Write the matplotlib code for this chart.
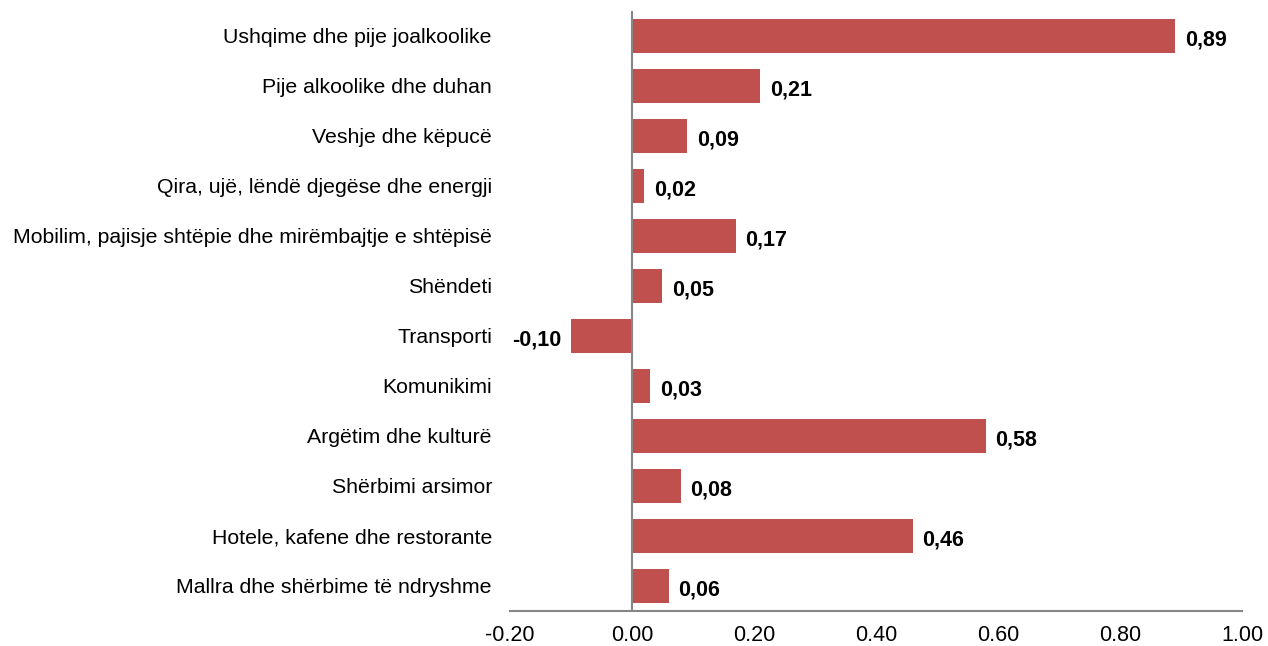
import matplotlib
matplotlib.use("Agg")
import matplotlib.pyplot as plt

plt.rcParams['font.family'] = ['Liberation Sans', 'DejaVu Sans']

categories = ["Ushqime dhe pije joalkoolike", "Pije alkoolike dhe duhan",
              "Veshje dhe këpucë", "Qira, ujë, lëndë djegëse dhe energji",
              "Mobilim, pajisje shtëpie dhe mirëmbajtje e shtëpisë", "Shëndeti",
              "Transporti", "Komunikimi", "Argëtim dhe kulturë",
              "Shërbimi arsimor", "Hotele, kafene dhe restorante",
              "Mallra dhe shërbime të ndryshme"]
values = [0.89, 0.21, 0.09, 0.02, 0.17, 0.05, -0.10, 0.03, 0.58, 0.08, 0.46, 0.06]
xticks = [-0.20, 0.00, 0.20, 0.40, 0.60, 0.80, 1.00]

fig = plt.figure(figsize=(12.68, 6.46), dpi=100)
ax = fig.add_axes([0.4022, 0.0542, 0.5773, 0.9288])

y = list(range(len(categories)))
ax.barh(y, values, height=0.68, color='#C0504D')
ax.set_ylim(len(categories) - 0.5, -0.5)
ax.set_xlim(-0.2, 1.0)

for yi, v in zip(y, values):
    txt = f"{v:.2f}".replace('.', ',')
    if v >= 0:
        ax.text(v + 0.016, yi + 0.08, txt, ha='left', va='center',
                fontsize=15.5, fontweight='bold')
    else:
        ax.text(v - 0.016, yi + 0.08, txt, ha='right', va='center',
                fontsize=15.5, fontweight='bold')

ax.axvline(0, color='#868686', lw=1.5)
ax.set_yticks(y)
ax.set_yticklabels(categories, fontsize=15.3)
ax.set_xticks(xticks)
ax.set_xticklabels([f"{t:.2f}" for t in xticks], fontsize=15.5)
ax.tick_params(axis='both', length=0)
ax.tick_params(axis='y', pad=13)
ax.tick_params(axis='x', pad=10)

for s in ['top', 'right', 'left']:
    ax.spines[s].set_visible(False)
ax.spines['bottom'].set_color('#868686')
ax.spines['bottom'].set_linewidth(1.5)

fig.savefig("out.png", dpi=100)
